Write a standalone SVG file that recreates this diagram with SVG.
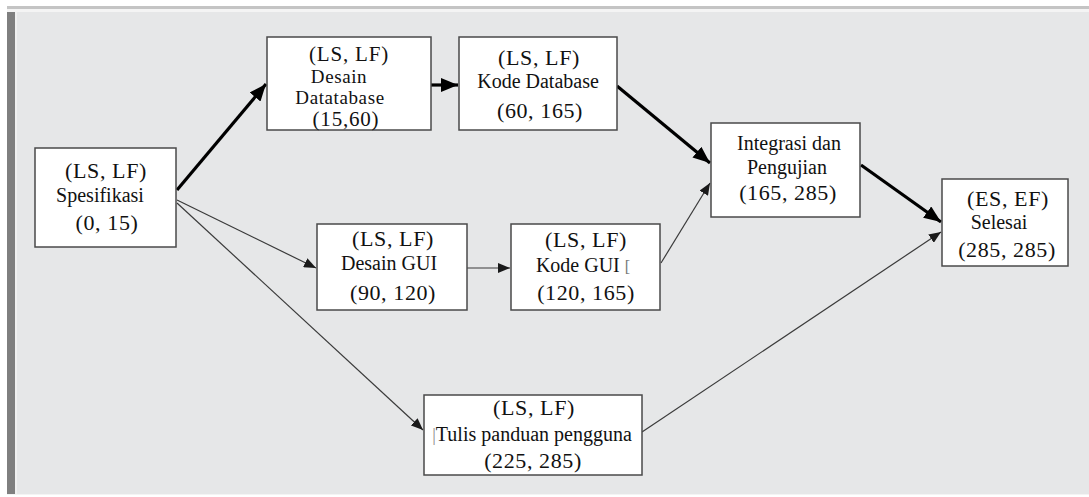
<svg xmlns="http://www.w3.org/2000/svg" width="1089" height="497" viewBox="0 0 1089 497">
<style>
.box{fill:#ffffff;stroke:#4a4a4a;stroke-width:1.5}
text{font-family:"Liberation Serif","Times New Roman",serif;fill:#111111;text-anchor:middle}
.t{font-size:20px}
.p{font-size:22px;letter-spacing:0.6px}
.s{font-size:19px;letter-spacing:0.6px}
.q{font-size:21px;letter-spacing:0.8px}
.thick{stroke:#000;stroke-width:3.2;fill:none}
.thin{stroke:#3a3a3a;stroke-width:1.2;fill:none}
</style>
<defs>
<marker id="ah" markerUnits="userSpaceOnUse" markerWidth="18" markerHeight="14" refX="17" refY="7" orient="auto">
<path d="M0,0 L17,7 L0,14 z" fill="#000"/>
</marker>
<marker id="as" markerUnits="userSpaceOnUse" markerWidth="12" markerHeight="10" refX="12" refY="5" orient="auto">
<path d="M0,0 L12,5 L0,10 z" fill="#1a1a1a"/>
</marker>
</defs>
<rect x="0" y="0" width="1089" height="497" fill="#ffffff"/>
<rect x="7" y="6" width="1082" height="489" fill="#c4c4c4"/>
<rect x="7" y="9" width="1082" height="486" fill="#f4f4f4"/>
<rect x="7" y="12" width="1082" height="482" fill="#e6e7e8"/>
<rect x="7" y="12" width="8" height="482" fill="#7f7f7f"/>
<rect x="15" y="12" width="2" height="482" fill="#f0f0f0"/>

<g id="connectors">
<line class="thick" x1="177" y1="190" x2="266" y2="84" marker-end="url(#ah)"/>
<line class="thick" x1="431" y1="85" x2="458" y2="85" marker-end="url(#ah)"/>
<line class="thick" x1="617" y1="86" x2="710" y2="163" marker-end="url(#ah)"/>
<line class="thick" x1="861" y1="165" x2="941" y2="222" marker-end="url(#ah)"/>
<line class="thin" x1="177" y1="200" x2="316" y2="268" marker-end="url(#as)"/>
<line class="thin" x1="177" y1="203" x2="423" y2="430" marker-end="url(#as)"/>
<line class="thin" x1="467" y1="268" x2="510" y2="268" marker-end="url(#as)"/>
<line class="thin" x1="661" y1="263" x2="710" y2="183" marker-end="url(#as)"/>
<line class="thin" x1="642" y1="432" x2="941" y2="232" marker-end="url(#as)"/>
</g>

<g id="spesifikasi">
<rect class="box" x="35" y="148" width="141" height="99"/>
<text class="p" x="106" y="178">(LS, LF)</text>
<text class="t" x="100" y="202">Spesifikasi</text>
<text class="p" x="107" y="230">(0, 15)</text>
</g>

<g id="desain-database">
<rect class="box" x="267" y="37" width="164" height="93"/>
<text class="q" x="349" y="60.5">(LS, LF)</text>
<text class="s" x="339" y="82.5">Desain</text>
<text class="s" x="340" y="103.5">Datatabase</text>
<text class="q" x="346" y="126">(15,60)</text>
</g>

<g id="kode-database">
<rect class="box" x="459" y="37" width="158" height="93"/>
<text class="p" x="539" y="65">(LS, LF)</text>
<text class="t" x="538" y="88">Kode Database</text>
<text class="p" x="540" y="118">(60, 165)</text>
</g>

<g id="integrasi">
<rect class="box" x="711" y="123" width="149" height="94"/>
<text class="t" x="789" y="150">Integrasi dan</text>
<text class="t" x="787" y="174">Pengujian</text>
<text class="p" x="788" y="200">(165, 285)</text>
</g>

<g id="selesai">
<rect class="box" x="942" y="179" width="126" height="87"/>
<text class="p" x="1008" y="206">(ES, EF)</text>
<text class="t" x="999" y="229">Selesai</text>
<text class="p" x="1007" y="257">(285, 285)</text>
</g>

<g id="desain-gui">
<rect class="box" x="317" y="224" width="150" height="86"/>
<text class="p" x="393" y="246">(LS, LF)</text>
<text class="t" x="389" y="270">Desain GUI</text>
<text class="p" x="393" y="300">(90, 120)</text>
</g>

<g id="kode-gui">
<rect class="box" x="511" y="224" width="149" height="86"/>
<text class="p" x="586" y="247">(LS, LF)</text>
<text class="t" x="583" y="272">Kode GUI <tspan fill="#777" font-size="16">[</tspan></text>
<text class="p" x="586" y="300">(120, 165)</text>
</g>

<g id="tulis-panduan">
<rect class="box" x="424" y="395" width="218" height="80"/>
<text class="p" x="534" y="415">(LS, LF)</text>
<text class="t" x="532" y="441"><tspan fill="#888" font-size="18">|</tspan>Tulis panduan pengguna</text>
<text class="p" x="533" y="468">(225, 285)</text>
</g>
</svg>
